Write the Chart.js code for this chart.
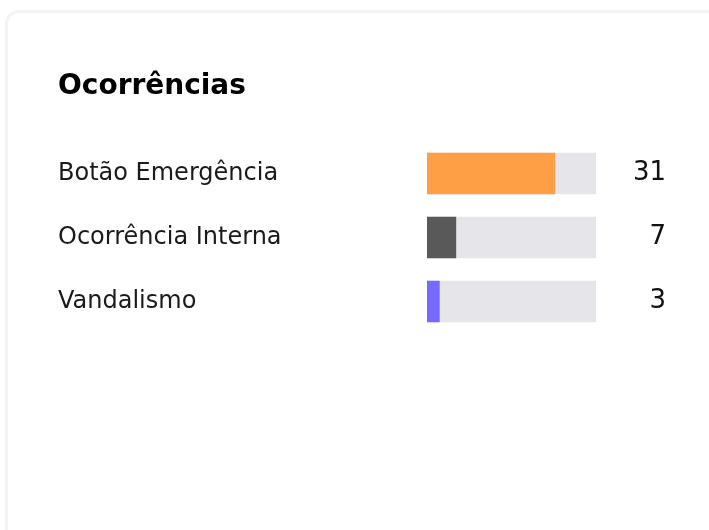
<!DOCTYPE html>
<html>
<head>
<meta charset="utf-8">
<script src="https://cdn.jsdelivr.net/npm/chart.js@4/dist/chart.umd.min.js"></script>
<style>
  html, body { margin: 0; padding: 0; background: #ffffff; overflow: hidden; }
  #stage { position: relative; width: 709px; height: 530px; overflow: hidden; background: #ffffff; }
  #card { position: absolute; left: 5px; top: 10px; width: 760px; height: 560px;
          border: 3px solid #f3f3f3; border-radius: 14px; background: #ffffff; box-sizing: border-box; }
  #chart { position: absolute; left: 0; top: 0; }
</style>
</head>
<body>
<div id="stage">
  <div id="card"></div>
  <canvas id="chart" width="709" height="530"></canvas>
</div>
<script>
const titleText = "Ocorrências";
const categories = ["Botão Emergência", "Ocorrência Interna", "Vandalismo"];
const counts = [31, 7, 3];
const barColors = ["#FF9F45", "#595959", "#7569FF"];
const trackColor = "#E5E5EA";

const total = counts.reduce((a, b) => a + b, 0);
const trackValues = categories.map(() => total);
const valueLabels = counts.map(String);

const fontFamily = '"DejaVu Sans", sans-serif';

new Chart(document.getElementById("chart"), {
  type: "bar",
  data: {
    labels: categories,
    datasets: [
      {
        data: counts,
        backgroundColor: barColors,
        borderWidth: 0,
        barThickness: 41,
        grouped: false,
        yAxisID: "y",
        order: 0
      },
      {
        data: trackValues,
        backgroundColor: trackColor,
        borderWidth: 0,
        barThickness: 41,
        grouped: false,
        yAxisID: "y",
        order: 1
      }
    ]
  },
  options: {
    indexAxis: "y",
    responsive: false,
    animation: false,
    events: [],
    layout: { padding: { left: 58, right: 43, top: 60, bottom: 196.5 } },
    plugins: {
      legend: { display: false },
      tooltip: { enabled: false },
      title: {
        display: true,
        text: titleText,
        align: "start",
        color: "#000000",
        font: { family: fontFamily, size: 28, weight: "bold", lineHeight: 1.2 },
        padding: { top: 10, bottom: 37.9 }
      }
    },
    scales: {
      x: { display: false, min: 0, max: total },
      y: {
        position: "left",
        grid: { display: false },
        border: { display: false },
        ticks: {
          crossAlign: "far",
          padding: 0,
          autoSkip: false,
          color: "#1a1a1a",
          font: { family: fontFamily, size: 24 }
        },
        afterFit: (s) => { s.width = 369; }
      },
      y2: {
        type: "category",
        labels: valueLabels,
        position: "right",
        offset: true,
        grid: { display: false },
        border: { display: false },
        ticks: {
          crossAlign: "far",
          padding: 0,
          autoSkip: false,
          color: "#111111",
          font: { family: fontFamily, size: 26 }
        },
        afterFit: (s) => { s.width = 70; }
      }
    }
  }
});
</script>
</body>
</html>
